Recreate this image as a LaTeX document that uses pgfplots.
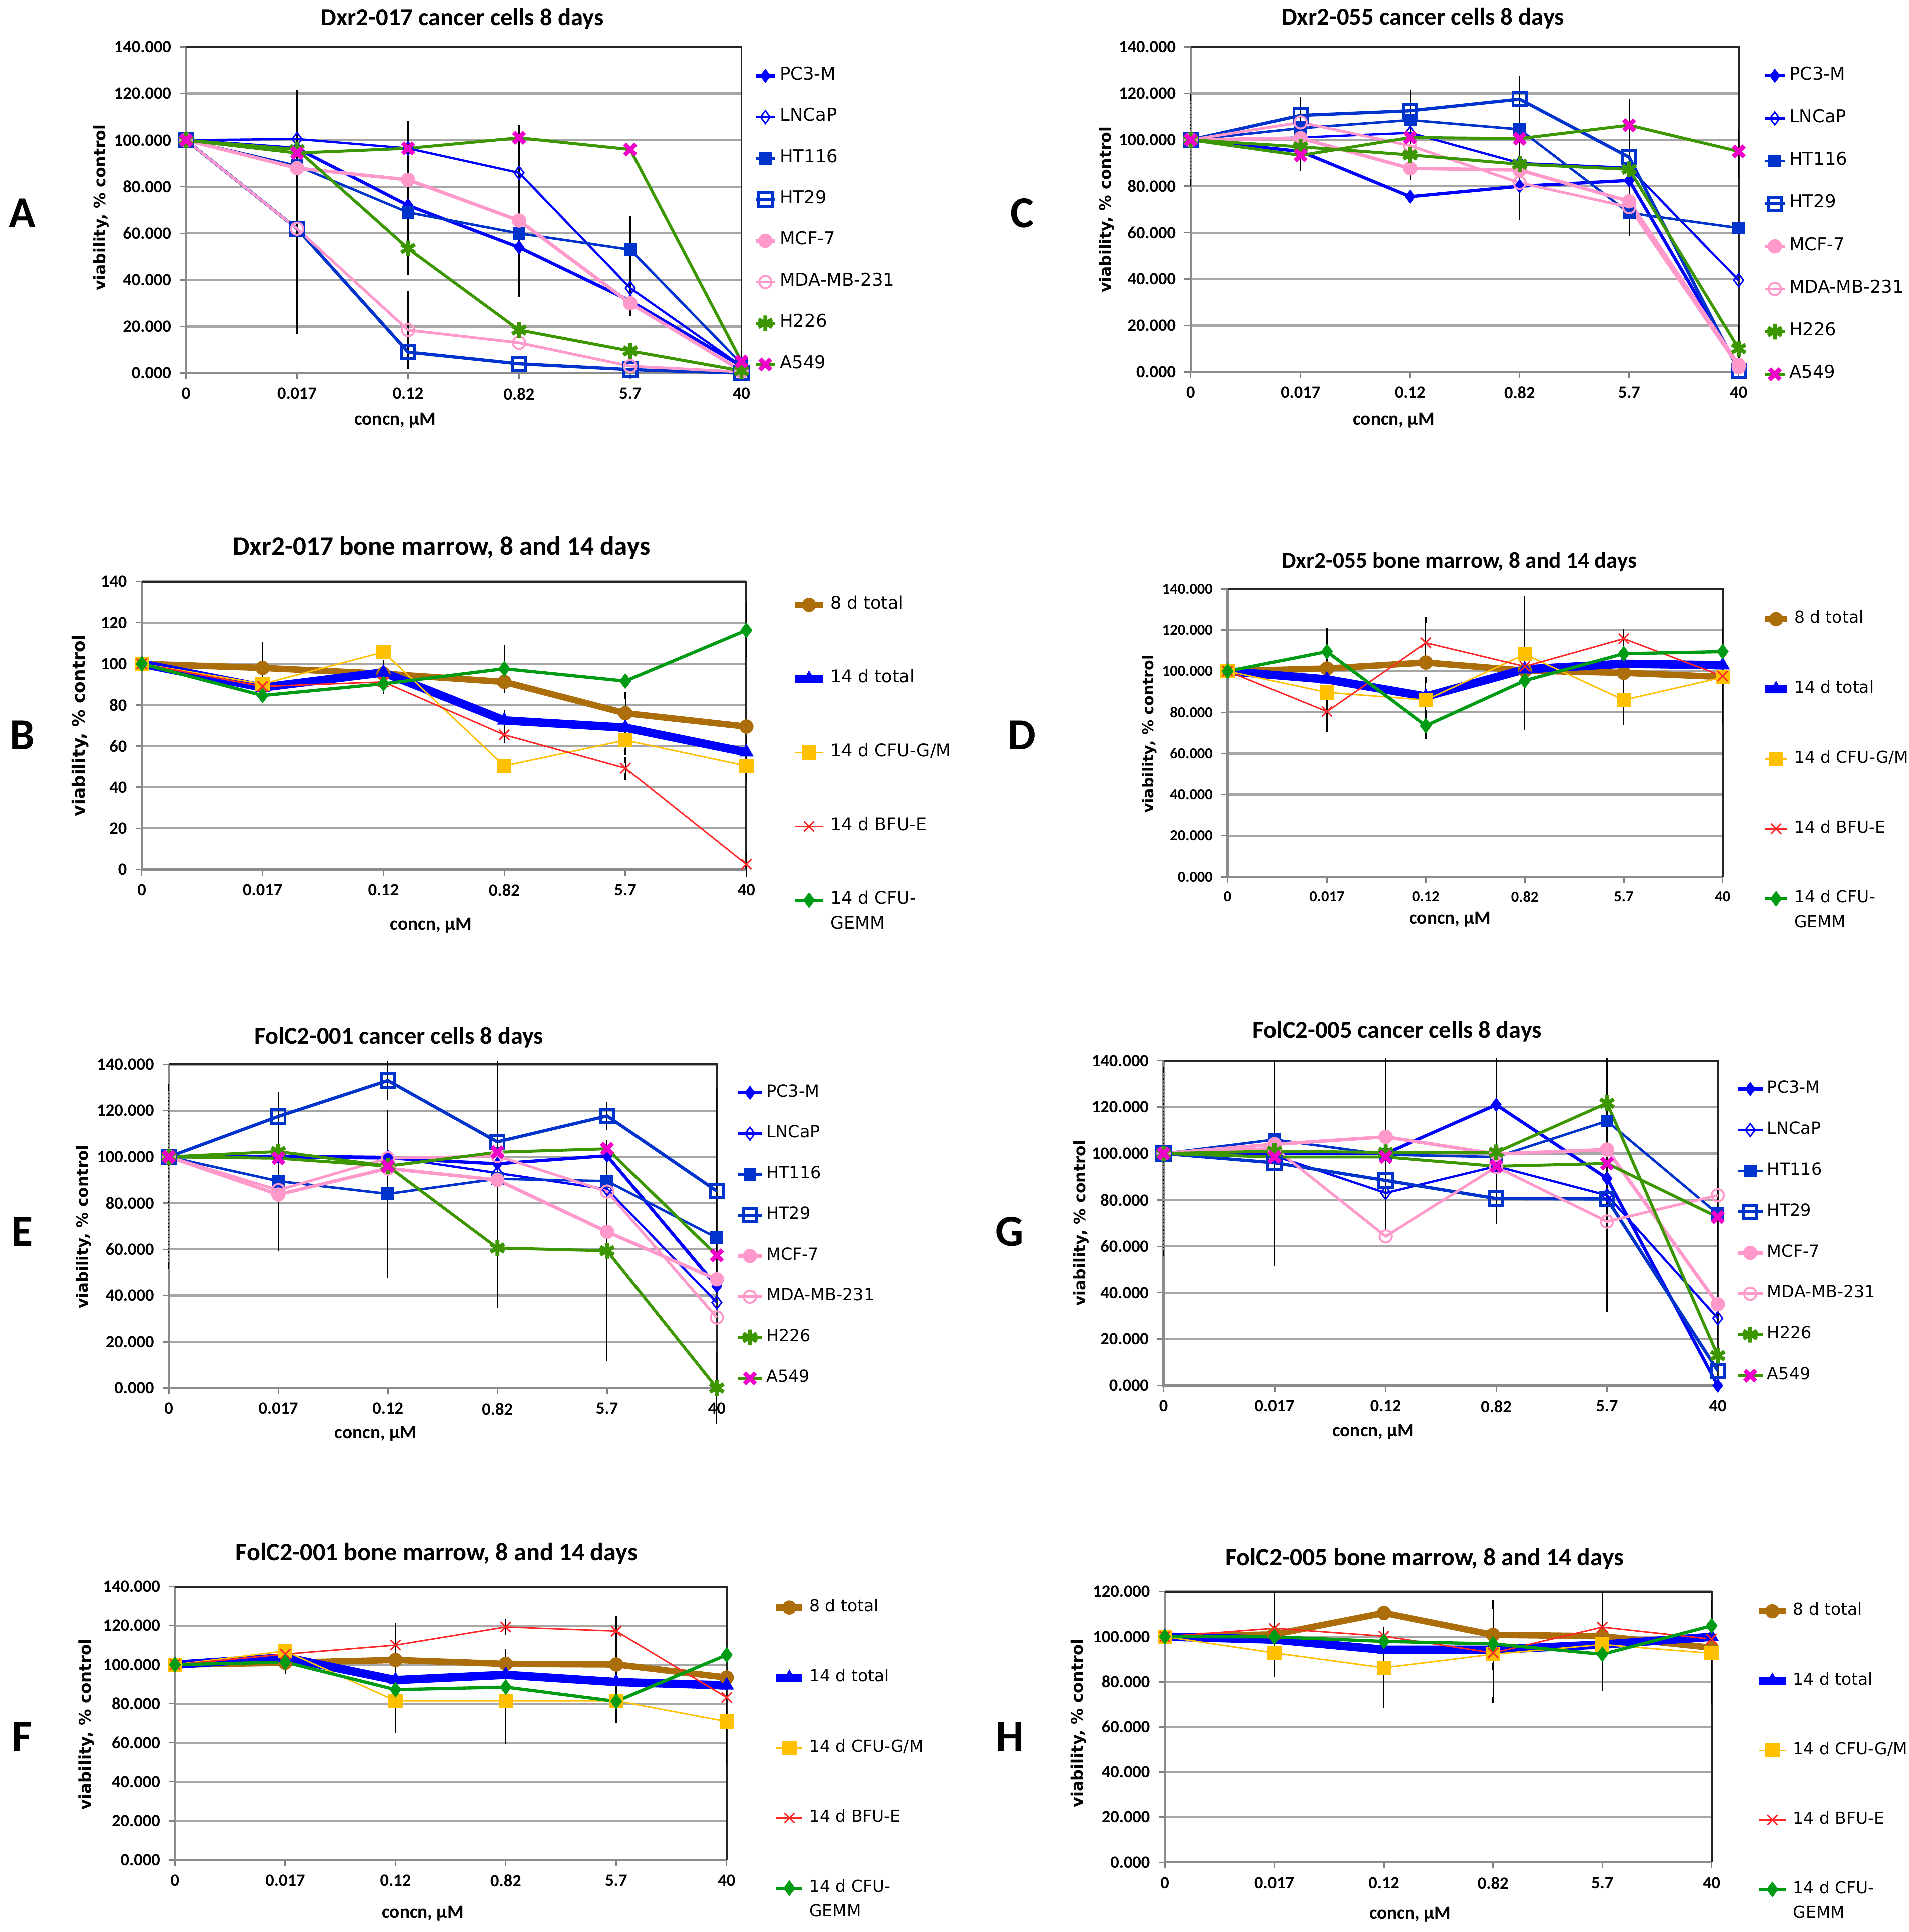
\documentclass[border=0pt]{standalone}
\usepackage{pgfplots}
\pgfplotsset{compat=1.18}
\usepackage{fontspec}
\setmainfont{Carlito}
\newfontfamily\dejavu{DejaVu Sans}

\definecolor{bluA}{RGB}{0,0,255}
\definecolor{bluB}{RGB}{0,51,204}
\definecolor{pnk}{RGB}{255,153,204}
\definecolor{grn}{RGB}{60,150,0}
\definecolor{mag}{RGB}{240,0,200}
\definecolor{brn}{RGB}{172,110,10}
\definecolor{ylw}{RGB}{255,192,0}
\definecolor{rd}{RGB}{255,40,40}
\definecolor{grnB}{RGB}{0,155,20}

\newcommand{\tickfont}{\bfseries\fontsize{7}{8}\selectfont}
\newcommand{\frameit}{%
  \draw[black!45, line width=0.9pt] (rel axis cs:0,1) -- (rel axis cs:0,0) -- (rel axis cs:1,0);
  \draw[black!85, line width=0.8pt] (rel axis cs:0,1) -- (rel axis cs:1,1) -- (rel axis cs:1,0);}

\pgfplotsset{
  panel/.style={
    scale only axis, clip=false, anchor=south west,
    xmin=0, xmax=5, ymin=0, ymax=140,
    xtick={0,...,5}, xticklabels={0,0.017,0.12,0.82,5.7,40},
    ytick={0,20,...,140},
    ymajorgrids, grid style={black!35, line width=0.9pt},
    axis line style={draw=none},
    tick pos=left, tick align=outside, major tick length=2.5pt,
    tick style={black!50, line width=0.6pt},
    /pgf/number format/assume math mode=true,
    tick label style={font=\tickfont},
    yticklabel={\pgfmathprintnumber[fixed,fixed zerofill,precision=3]{\tick}},
    legend cell align=left,
  },
  limg/.style={legend image code/.code={%
    \draw[mark repeat=2,mark phase=2,##1] plot coordinates {(0pt,0pt) (#1,0pt) ({2*#1},0pt)};}},
  leg/.style n args={4}{legend style={draw=none, fill=none, inner sep=0pt, outer sep=0pt,
    at={(#1,#2)}, anchor=north west, row sep=#3,
    font=\dejavu\fontsize{#4}{10}\selectfont,
    nodes={inner xsep=1.2pt, inner ysep=0pt, text height=5pt, text depth=1.8pt}}},
  err/.style={draw=none, mark=none, forget plot,
    error bars/y dir=both, error bars/y explicit,
    error bars/error bar style={draw=black, solid, line width=0.45pt},
    error bars/error mark=-,
    error bars/error mark options={draw=black, solid, mark size=1.3pt, line width=0.5pt}},
  errd/.style={err, error bars/error bar style={draw=black, densely dotted, line width=0.45pt}},
  % cancer cell lines
  pc3/.style={color=bluA, line width=1.3pt, mark=diamond*, mark size=2.6pt, mark options={solid, line width=0.4pt}},
  lncap/.style={color=bluA, line width=0.9pt, mark=diamond, mark size=2.6pt, mark options={solid, line width=0.6pt}},
  ht116/.style={color=bluB, line width=1.0pt, mark=square*, mark size=2.4pt, mark options={solid, line width=0.4pt}},
  ht29/.style={color=bluB, line width=1.3pt, mark=square, mark size=2.7pt, mark options={solid, line width=1.2pt}},
  mcf/.style={color=pnk, line width=1.4pt, mark=*, mark size=2.7pt, mark options={solid, line width=0.4pt}},
  mda/.style={color=pnk, line width=1.1pt, mark=o, mark size=2.5pt, mark options={solid, line width=0.8pt}},
  h226/.style={color=grn, line width=1.2pt, mark=asterisk, mark size=3.2pt, mark options={solid, line width=1.6pt}},
  a549/.style={color=grn, line width=1.2pt, mark=x, mark size=3.1pt, mark options={solid, draw=mag, line width=1.8pt}},
  % bone marrow
  dviii/.style={color=brn, line width=2.6pt, mark=*, mark size=2.7pt, mark options={solid, line width=0.4pt}},
  dxiv/.style={color=bluA, line width=3.4pt, mark=triangle*, mark size=3pt, mark options={solid, line width=0.4pt}},
  gm/.style={color=ylw, line width=0.6pt, mark=square*, mark size=2.7pt, mark options={solid, line width=0.4pt}},
  bfu/.style={color=rd, line width=0.6pt, mark=x, mark size=2.9pt, mark options={solid, line width=0.6pt}},
  gemm/.style={color=grnB, line width=1.3pt, mark=diamond*, mark size=2.9pt, mark options={solid, line width=0.4pt}},
}

\newcommand{\gemm}{\begin{tabular}[t]{@{}l@{}}14 d CFU-\\GEMM\end{tabular}}
\newcommand{\ttl}[1]{\bfseries\fontsize{#1}{12}\selectfont}
\newcommand{\xlf}{\bfseries\fontsize{7.6}{9}\selectfont}
\newcommand{\ylf}[1]{\dejavu\bfseries\fontsize{#1}{9}\selectfont}
\newcommand{\letf}{\bfseries\fontsize{18}{20}\selectfont}

\begin{document}
\begin{tikzpicture}
\useasboundingbox (0,0) rectangle (775pt,-784.25pt);

% ---------- A: Dxr2-017 cancer cells
\begin{axis}[panel, at={(75.5pt,-151.5pt)}, width=225.5pt, height=132.5pt,
  limg=4pt, leg={1.0222}{0.937}{9.95pt}{7.2}]
\frameit
\addplot[err] coordinates {(1,62) +- (0,44) (1,88) +- (0,32) (2,75.3) +- (0,31.7) (2,18.5) +- (0,15.5)
  (3,69.5) +- (0,35.5) (4,46) +- (0,20) (5,4) +- (0,4)};
\addplot[pc3] coordinates {(0,100) (1,96.5) (2,72) (3,54) (4,31) (5,3)};
\addlegendentry{PC3-M}
\addplot[lncap] coordinates {(0,100) (1,100.5) (2,96.5) (3,86) (4,36.5) (5,3)};
\addlegendentry{LNCaP}
\addplot[ht116] coordinates {(0,100) (1,89) (2,69) (3,60) (4,53) (5,4)};
\addlegendentry{HT116}
\addplot[ht29] coordinates {(0,100) (1,62) (2,9) (3,4) (4,1.5) (5,0)};
\addlegendentry{HT29}
\addplot[mcf] coordinates {(0,100) (1,88) (2,83) (3,65.5) (4,30) (5,1)};
\addlegendentry{MCF-7}
\addplot[mda] coordinates {(0,100) (1,62) (2,18.5) (3,13) (4,3) (5,0.5)};
\addlegendentry{MDA-MB-231}
\addplot[h226] coordinates {(0,100) (1,96) (2,53.5) (3,18.5) (4,9.5) (5,1)};
\addlegendentry{H226}
\addplot[a549] coordinates {(0,100) (1,94.5) (2,96.5) (3,101) (4,96) (5,5)};
\addlegendentry{A549}
\end{axis}

% ---------- C: Dxr2-055 cancer cells
\begin{axis}[panel, at={(483.5pt,-151pt)}, width=222.5pt, height=132pt,
  limg=4pt, leg={1.0449}{0.937}{10.52pt}{7.2}]
\frameit
\addplot[errd] coordinates {(0,100) +- (0,18.5)};
\addplot[err] coordinates {(1,102.5) +- (0,14.5) (2,102) +- (0,18) (3,96.5) +- (0,29.5)
  (4,88) +- (0,28) (5,94) +- (0,9) (5,10) +- (0,9)};
\addplot[pc3] coordinates {(0,100) (1,95) (2,75.5) (3,80) (4,82.5) (5,2)};
\addlegendentry{PC3-M}
\addplot[lncap] coordinates {(0,100) (1,101) (2,103) (3,90) (4,88) (5,39.5)};
\addlegendentry{LNCaP}
\addplot[ht116] coordinates {(0,100) (1,105) (2,108.5) (3,104.5) (4,68.5) (5,62)};
\addlegendentry{HT116}
\addplot[ht29] coordinates {(0,100) (1,110.5) (2,112.5) (3,117.5) (4,92.5) (5,0.5)};
\addlegendentry{HT29}
\addplot[mcf] coordinates {(0,100) (1,100.7) (2,87.7) (3,87) (4,73.5) (5,3)};
\addlegendentry{MCF-7}
\addplot[mda] coordinates {(0,100) (1,107.5) (2,97.5) (3,81.5) (4,71) (5,2)};
\addlegendentry{MDA-MB-231}
\addplot[h226] coordinates {(0,100) (1,97) (2,93.5) (3,89.5) (4,87.3) (5,10)};
\addlegendentry{H226}
\addplot[a549] coordinates {(0,100) (1,93.3) (2,101) (3,100.5) (4,106.3) (5,95)};
\addlegendentry{A549}
\end{axis}

% ---------- B: Dxr2-017 bone marrow
\begin{axis}[panel, at={(57.5pt,-353pt)}, width=245.5pt, height=117pt,
  yticklabel={\pgfmathprintnumber{\tick}},
  limg=5.75pt, leg={1.0733}{0.948}{23.2pt}{7.1}]
\frameit
\addplot[err] coordinates {(1,98) +- (0,11) (2,95.2) +- (0,5) (2,90.3) +- (0,3.5) (3,97.6) +- (0,10)
  (3,72.5) +- (0,3.5) (3,65.5) +- (0,2.5) (4,76) +- (0,8.5) (4,62.9) +- (0,5.5) (4,49.3) +- (0,4)
  (5,116.3) +- (0,12) (5,50.4) +- (0,6) (5,2.5) +- (0,4.6) (5,57) +- (0,6)};
\addplot[dviii] coordinates {(0,100) (1,98) (2,95.2) (3,91.2) (4,76) (5,69.5)};
\addlegendentry{8 d total}
\addplot[dxiv] coordinates {(0,100) (1,88.5) (2,95.8) (3,72.5) (4,69) (5,57)};
\addlegendentry{14 d total}
\addplot[gm] coordinates {(0,100) (1,90.2) (2,105.7) (3,50.4) (4,62.9) (5,50.4)};
\addlegendentry{14 d CFU-G/M}
\addplot[bfu] coordinates {(0,100) (1,89) (2,91.2) (3,65.5) (4,49.3) (5,2.5)};
\addlegendentry{14 d BFU-E}
\addplot[gemm] coordinates {(0,100) (1,84.6) (2,90.3) (3,97.6) (4,91.6) (5,116.3)};
\addlegendentry{\gemm}
\end{axis}

% ---------- D: Dxr2-055 bone marrow
\begin{axis}[panel, at={(498.5pt,-356pt)}, width=201pt, height=117pt,
  tick label style={font=\bfseries\fontsize{6.2}{7}\selectfont},
  limg=4.5pt, leg={1.0771}{0.924}{21.6pt}{6.7}]
\frameit
\addplot[err] coordinates {(1,109.5) +- (0,10) (1,80.4) +- (0,8.5) (2,113.8) +- (0,11) (2,73.5) +- (0,5)
  (2,87.7) +- (0,8) (3,108.2) +- (0,27) (3,100.9) +- (0,18) (3,95.4) +- (0,22.5)
  (4,86) +- (0,10.5) (4,115.8) +- (0,3) (4,108.5) +- (0,10) (5,97) +- (0,21) (5,102.9) +- (0,16)};
\addplot[dviii] coordinates {(0,100) (1,101.3) (2,104.2) (3,100.3) (4,99.2) (5,97.2)};
\addlegendentry{8 d total}
\addplot[dxiv] coordinates {(0,100) (1,96) (2,87.7) (3,100.9) (4,103.6) (5,102.9)};
\addlegendentry{14 d total}
\addplot[gm] coordinates {(0,100) (1,89.7) (2,86) (3,108.2) (4,86) (5,97)};
\addlegendentry{14 d CFU-G/M}
\addplot[bfu] coordinates {(0,100) (1,80.4) (2,113.8) (3,102.3) (4,115.8) (5,97.6)};
\addlegendentry{14 d BFU-E}
\addplot[gemm] coordinates {(0,100) (1,109.5) (2,73.5) (3,95.4) (4,108.5) (5,109.5)};
\addlegendentry{\gemm}
\end{axis}

% ---------- E: FolC2-001 cancer cells
\begin{axis}[panel, at={(68.5pt,-563.5pt)}, width=222.5pt, height=131.5pt,
  limg=4.75pt, leg={1.036}{0.938}{9.77pt}{6.8}]
\frameit
\addplot[errd] coordinates {(0,91.5) +- (0,38.5)};
\addplot[err] coordinates {(1,83.7) +- (0,23) (1,117.5) +- (0,9) (2,84) +- (0,35) (2,133) +- (0,7)
  (3,88) +- (0,52) (4,59.4) +- (0,46.5) (4,117.7) +- (0,4.5) (5,85.2) +- (0,43) (5,0) +- (0,14)};
\addplot[pc3] coordinates {(0,100) (1,100) (2,99.5) (3,97) (4,100.5) (5,44)};
\addlegendentry{PC3-M}
\addplot[lncap] coordinates {(0,100) (1,100.5) (2,100) (3,93) (4,86) (5,37)};
\addlegendentry{LNCaP}
\addplot[ht116] coordinates {(0,100) (1,89.5) (2,84) (3,90.5) (4,89.5) (5,65)};
\addlegendentry{HT116}
\addplot[ht29] coordinates {(0,100) (1,117.5) (2,133) (3,106.5) (4,117.7) (5,85.2)};
\addlegendentry{HT29}
\addplot[mcf] coordinates {(0,100) (1,83.7) (2,95) (3,90) (4,67.6) (5,47)};
\addlegendentry{MCF-7}
\addplot[mda] coordinates {(0,100) (1,85.6) (2,99.4) (3,100.4) (4,85) (5,30.5)};
\addlegendentry{MDA-MB-231}
\addplot[h226] coordinates {(0,100) (1,102.3) (2,96) (3,60.6) (4,59.4) (5,0)};
\addlegendentry{H226}
\addplot[a549] coordinates {(0,100) (1,99.4) (2,96) (3,102) (4,103.5) (5,57.4)};
\addlegendentry{A549}
\end{axis}

% ---------- G: FolC2-005 cancer cells
\begin{axis}[panel, at={(472.5pt,-562.5pt)}, width=225pt, height=132pt,
  limg=5pt, leg={1.0333}{0.9386}{9.84pt}{6.8}]
\frameit
\addplot[errd] coordinates {(0,96.5) +- (0,39.5)};
\addplot[err] coordinates {(1,96) +- (0,43) (2,104) +- (0,36) (3,105.5) +- (0,34.5)
  (4,86.5) +- (0,53.5) (5,56) +- (0,37)};
\addplot[pc3] coordinates {(0,100) (1,100) (2,100) (3,121) (4,89.3) (5,0)};
\addlegendentry{PC3-M}
\addplot[lncap] coordinates {(0,100) (1,99) (2,83) (3,94.5) (4,82) (5,29)};
\addlegendentry{LNCaP}
\addplot[ht116] coordinates {(0,100) (1,106) (2,99.5) (3,98.5) (4,114) (5,74)};
\addlegendentry{HT116}
\addplot[ht29] coordinates {(0,100) (1,96) (2,88.4) (3,80.6) (4,80.4) (5,6.4)};
\addlegendentry{HT29}
\addplot[mcf] coordinates {(0,100) (1,104) (2,107.2) (3,99.8) (4,101.7) (5,35)};
\addlegendentry{MCF-7}
\addplot[mda] coordinates {(0,100) (1,102.3) (2,64.3) (3,94.2) (4,70.7) (5,82)};
\addlegendentry{MDA-MB-231}
\addplot[h226] coordinates {(0,100) (1,101) (2,100.5) (3,100.5) (4,121.7) (5,12.9)};
\addlegendentry{H226}
\addplot[a549] coordinates {(0,100) (1,98.5) (2,98.5) (3,94.5) (4,95.7) (5,72.6)};
\addlegendentry{A549}
\end{axis}

% ---------- F: FolC2-001 bone marrow
\begin{axis}[panel, at={(71pt,-755pt)}, width=224pt, height=111pt,
  limg=5.25pt, leg={1.0826}{0.954}{21.7pt}{6.7}]
\frameit
\addplot[err] coordinates {(1,101) +- (0,4) (2,110) +- (0,9.6) (2,87.2) +- (0,20.5) (3,81.5) +- (0,20.3)
  (3,100.4) +- (0,6.2) (3,119.3) +- (0,2.5) (4,117.2) +- (0,6) (4,100.1) +- (0,12.2) (4,81.2) +- (0,9.2)
  (5,70.9) +- (0,20.7)};
\addplot[dviii] coordinates {(0,100) (1,101) (2,102.4) (3,100.4) (4,100.1) (5,93.4)};
\addlegendentry{8 d total}
\addplot[dxiv] coordinates {(0,100) (1,103.7) (2,92.1) (3,94.8) (4,91.1) (5,89.4)};
\addlegendentry{14 d total}
\addplot[gm] coordinates {(0,100) (1,107) (2,81.5) (3,81.5) (4,81.5) (5,70.9)};
\addlegendentry{14 d CFU-G/M}
\addplot[bfu] coordinates {(0,100) (1,105.4) (2,110) (3,119.3) (4,117.2) (5,83.2)};
\addlegendentry{14 d BFU-E}
\addplot[gemm] coordinates {(0,100) (1,101.3) (2,87.2) (3,88.5) (4,81.2) (5,105)};
\addlegendentry{\gemm}
\end{axis}

% ---------- H: FolC2-005 bone marrow
\begin{axis}[panel, at={(473pt,-756pt)}, width=222pt, height=110pt,
  ymax=120, ytick={0,20,...,120},
  limg=5.5pt, leg={1.0788}{0.958}{21.45pt}{6.7}]
\frameit
\addplot[err] coordinates {(1,101) +- (0,17.5) (2,86.2) +- (0,16.5) (3,92.8) +- (0,21) (3,100.8) +- (0,14)
  (4,100.2) +- (0,18) (4,92.2) +- (0,15) (5,92.6) +- (0,21) (5,99.9) +- (0,15)};
\addplot[dviii] coordinates {(0,100) (1,101) (2,110.5) (3,100.8) (4,100.2) (5,95.1)};
\addlegendentry{8 d total}
\addplot[dxiv] coordinates {(0,100) (1,98.7) (2,94.2) (3,94.2) (4,96.5) (5,99.9)};
\addlegendentry{14 d total}
\addplot[gm] coordinates {(0,100) (1,92.8) (2,86.2) (3,92.2) (4,96.5) (5,92.6)};
\addlegendentry{14 d CFU-G/M}
\addplot[bfu] coordinates {(0,100) (1,103.7) (2,100.2) (3,92.8) (4,104.2) (5,98.9)};
\addlegendentry{14 d BFU-E}
\addplot[gemm] coordinates {(0,100) (1,99.9) (2,97.9) (3,96.8) (4,92.2) (5,104.8)};
\addlegendentry{\gemm}
\end{axis}

% titles
\node[font=\ttl{9.9}, anchor=base] at (187.75pt,-10.35pt) {Dxr2-017 cancer cells 8 days};
\node[font=\ttl{9.9}, anchor=base] at (577.75pt,-10.15pt) {Dxr2-055 cancer cells 8 days};
\node[font=\ttl{10.8}, anchor=base] at (179.25pt,-225.2pt) {Dxr2-017 bone marrow, 8 and 14 days};
\node[font=\ttl{9.2}, anchor=base] at (592.5pt,-230.4pt) {Dxr2-055 bone marrow, 8 and 14 days};
\node[font=\ttl{9.85}, anchor=base] at (162pt,-423.8pt) {FolC2-001 cancer cells 8 days};
\node[font=\ttl{9.85}, anchor=base] at (567.3pt,-421.25pt) {FolC2-005 cancer cells 8 days};
\node[font=\ttl{10.2}, anchor=base] at (177.25pt,-633.3pt) {FolC2-001 bone marrow, 8 and 14 days};
\node[font=\ttl{10.1}, anchor=base] at (578.5pt,-635.4pt) {FolC2-005 bone marrow, 8 and 14 days};

% x labels
\node[font=\xlf, anchor=base] at (160.5pt,-172.5pt) {concn, µM};
\node[font=\xlf, anchor=base] at (565.85pt,-172.5pt) {concn, µM};
\node[font=\xlf, anchor=base] at (175pt,-377.6pt) {concn, µM};
\node[font=\xlf, anchor=base] at (588.8pt,-375.2pt) {concn, µM};
\node[font=\xlf, anchor=base] at (152.5pt,-584.1pt) {concn, µM};
\node[font=\xlf, anchor=base] at (557.5pt,-583.3pt) {concn, µM};
\node[font=\xlf, anchor=base] at (171.7pt,-778.65pt) {concn, µM};
\node[font=\xlf, anchor=base] at (572.5pt,-779pt) {concn, µM};

% y labels
\node[font=\ylf{6.4}, rotate=90] at (41pt,-84.25pt) {viability, \% control};
\node[font=\ylf{6.4}, rotate=90] at (449.4pt,-85.1pt) {viability, \% control};
\node[font=\ylf{7}, rotate=90] at (32.5pt,-294.5pt) {viability, \% control};
\node[font=\ylf{6.1}, rotate=90] at (466.85pt,-298pt) {viability, \% control};
\node[font=\ylf{6.3}, rotate=90] at (34pt,-498pt) {viability, \% control};
\node[font=\ylf{6.4}, rotate=90] at (439pt,-496.5pt) {viability, \% control};
\node[font=\ylf{6.6}, rotate=90] at (35pt,-700pt) {viability, \% control};
\node[font=\ylf{6.5}, rotate=90] at (438pt,-699.5pt) {viability, \% control};

% panel letters
\node[font=\letf] at (9pt,-86.5pt) {A};
\node[font=\letf] at (9pt,-298.5pt) {B};
\node[font=\letf] at (415pt,-86.5pt) {C};
\node[font=\letf] at (415pt,-298.5pt) {D};
\node[font=\letf] at (9pt,-500pt) {E};
\node[font=\letf] at (9pt,-705pt) {F};
\node[font=\letf] at (410pt,-500pt) {G};
\node[font=\letf] at (410pt,-705pt) {H};
\end{tikzpicture}
\end{document}
